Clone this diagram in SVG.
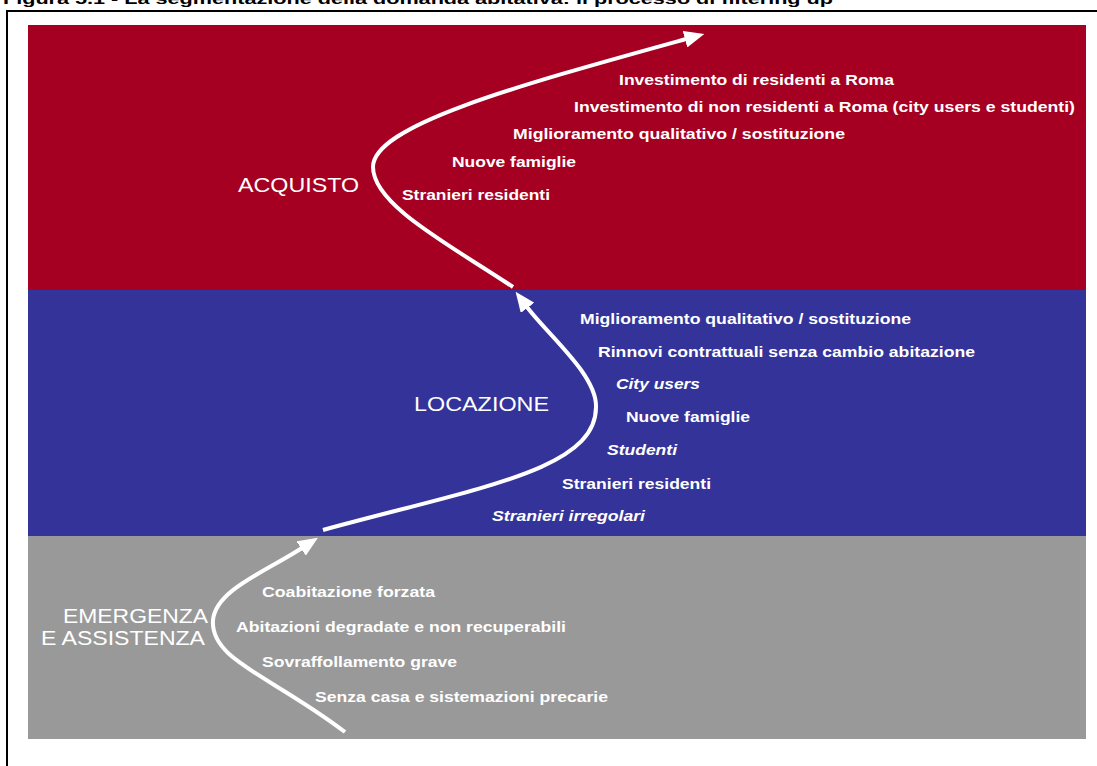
<svg xmlns="http://www.w3.org/2000/svg" width="1097" height="766" viewBox="0 0 1097 766">
<style>
.t{font-family:"Liberation Sans",Arial,sans-serif;font-weight:bold;font-size:15.5px;fill:#fff}
.i{font-style:italic}
.c{font-family:"Liberation Sans",Arial,sans-serif;font-size:20px;fill:#fff}
.title{font-family:"Liberation Sans",Arial,sans-serif;font-weight:bold;font-size:15px;fill:#000}
.arr{fill:none;stroke:#fff;stroke-width:4}
</style>
<defs>
<marker id="ah" viewBox="0 0 20 17" markerWidth="20" markerHeight="17" markerUnits="userSpaceOnUse" refX="1" refY="8.5" orient="auto">
<path d="M0,0 L20,8.5 L0,17 Z" fill="#fff"/>
</marker>
</defs>
<rect width="1097" height="766" fill="#fff"/>
<text class="title" x="3" y="4" textLength="830" lengthAdjust="spacingAndGlyphs">Figura 5.1 - La segmentazione della domanda abitativa: il processo di filtering up</text>
<path d="M7,766 V11 H1097" fill="none" stroke="#000" stroke-width="2"/>
<g id="acquisto">
<rect x="28" y="25" width="1058" height="265" fill="#A50021"/>
<text class="c" x="238" y="192" textLength="121" lengthAdjust="spacingAndGlyphs">ACQUISTO</text>
<text class="t" x="619" y="85" textLength="275" lengthAdjust="spacingAndGlyphs">Investimento di residenti a Roma</text>
<text class="t" x="574" y="112" textLength="501" lengthAdjust="spacingAndGlyphs">Investimento di non residenti a Roma (city users e studenti)</text>
<text class="t" x="513" y="139" textLength="332" lengthAdjust="spacingAndGlyphs">Miglioramento qualitativo / sostituzione</text>
<text class="t" x="452" y="167" textLength="124" lengthAdjust="spacingAndGlyphs">Nuove famiglie</text>
<text class="t" x="402" y="200" textLength="148" lengthAdjust="spacingAndGlyphs">Stranieri residenti</text>
</g>
<g id="locazione">
<rect x="28" y="290" width="1058" height="246" fill="#333399"/>
<text class="c" x="414" y="411" textLength="135" lengthAdjust="spacingAndGlyphs">LOCAZIONE</text>
<text class="t" x="580" y="324" textLength="331" lengthAdjust="spacingAndGlyphs">Miglioramento qualitativo / sostituzione</text>
<text class="t" x="598" y="357" textLength="377" lengthAdjust="spacingAndGlyphs">Rinnovi contrattuali senza cambio abitazione</text>
<text class="t i" x="616" y="389" textLength="84" lengthAdjust="spacingAndGlyphs">City users</text>
<text class="t" x="626" y="422" textLength="124" lengthAdjust="spacingAndGlyphs">Nuove famiglie</text>
<text class="t i" x="607" y="455" textLength="70" lengthAdjust="spacingAndGlyphs">Studenti</text>
<text class="t" x="562" y="489" textLength="149" lengthAdjust="spacingAndGlyphs">Stranieri residenti</text>
<text class="t i" x="492" y="521" textLength="153" lengthAdjust="spacingAndGlyphs">Stranieri irregolari</text>
</g>
<g id="emergenza">
<rect x="28" y="536" width="1058" height="203" fill="#999999"/>
<text class="c" x="63" y="623" textLength="145" lengthAdjust="spacingAndGlyphs">EMERGENZA</text>
<text class="c" x="41" y="645" textLength="164" lengthAdjust="spacingAndGlyphs">E ASSISTENZA</text>
<text class="t" x="262" y="597" textLength="173" lengthAdjust="spacingAndGlyphs">Coabitazione forzata</text>
<text class="t" x="236" y="632" textLength="330" lengthAdjust="spacingAndGlyphs">Abitazioni degradate e non recuperabili</text>
<text class="t" x="262" y="667" textLength="195" lengthAdjust="spacingAndGlyphs">Sovraffollamento grave</text>
<text class="t" x="315" y="702" textLength="293" lengthAdjust="spacingAndGlyphs">Senza casa e sistemazioni precarie</text>
</g>
<g id="connectors">
<path class="arr" marker-end="url(#ah)" d="M345,732 C270,675 210,660 213,620 C216,590 265,572 302,548"/>
<path class="arr" marker-end="url(#ah)" d="M323,530 C480,487 596,470 596,407 C597,375 548,335 527,307"/>
<path class="arr" marker-end="url(#ah)" d="M513,287 C450,245 373,205 373,167 C373,125 520,85 686,39"/>
</g>
</svg>
